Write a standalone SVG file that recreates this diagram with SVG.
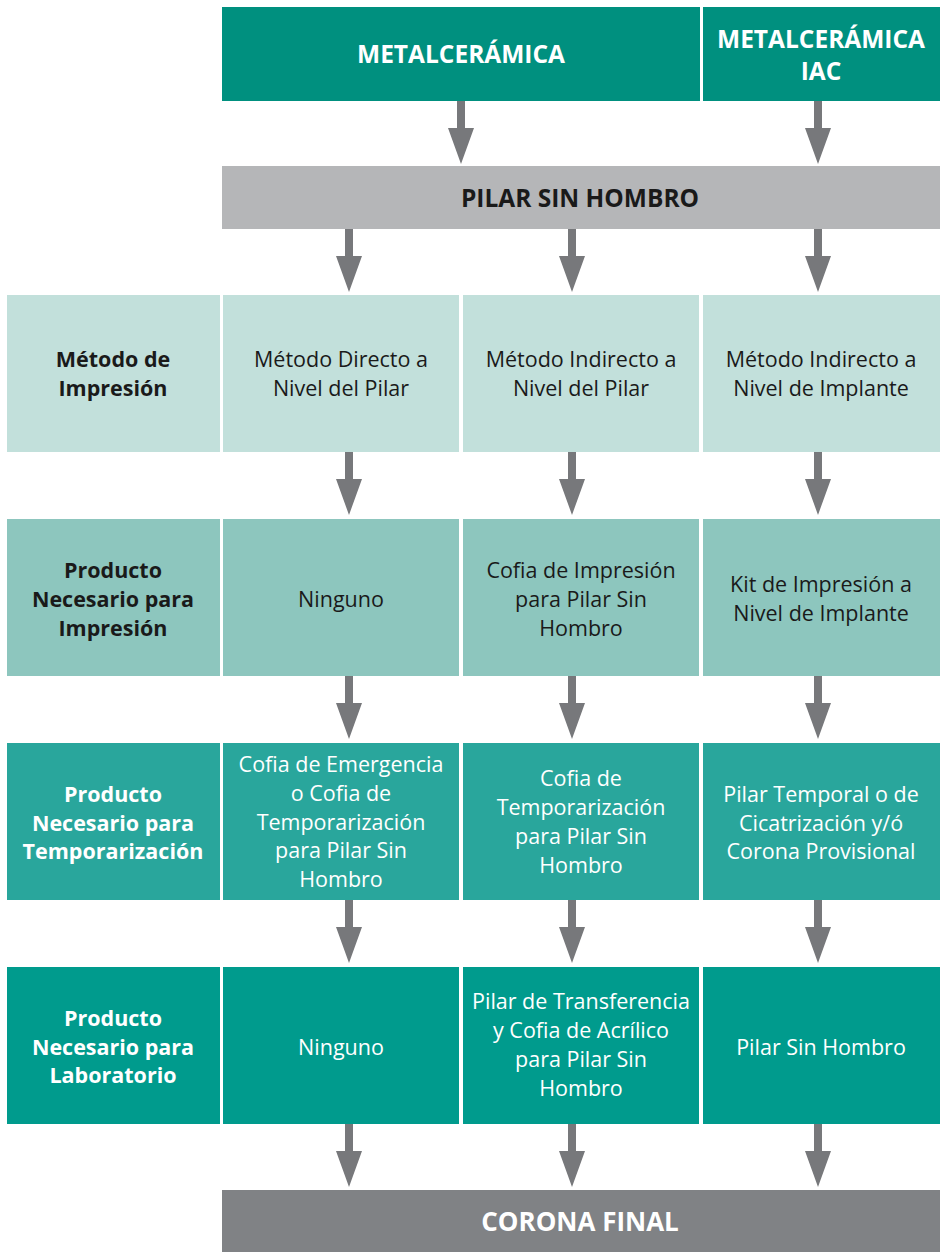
<svg xmlns="http://www.w3.org/2000/svg" xmlns:xlink="http://www.w3.org/1999/xlink" width="945" height="1252" viewBox="0 0 945 1252">
<style>
.t{font-family:"Open Sans","Noto Sans",sans-serif;font-size:21.5px;text-anchor:middle}
.b{font-weight:bold}
.h{font-family:"Open Sans","Noto Sans",sans-serif;font-size:24.5px;font-weight:bold;text-anchor:middle}
.dk{fill:#1a1a1a}
.wh{fill:#ffffff}
.hdr{fill:#00907F}
.gry{fill:#B5B6B8}
.r1{fill:#C2E0DB}
.r2{fill:#8DC6BE}
.r3{fill:#29A69C}
.r4{fill:#009B8D}
.fin{fill:#808285}
.arr{fill:#77787B}
</style>
<defs>
<path id="a" d="M-4,0 h8 v27 h9 l-13,36 l-13,-36 h9 z"/>
</defs>
<rect width="945" height="1252" fill="#ffffff"/>

<g id="connectors" class="arr">
<use xlink:href="#a" x="461" y="101"/>
<use xlink:href="#a" x="818" y="101"/>
<use xlink:href="#a" x="349" y="229"/>
<use xlink:href="#a" x="572" y="229"/>
<use xlink:href="#a" x="818" y="229"/>
<use xlink:href="#a" x="349" y="452"/>
<use xlink:href="#a" x="572" y="452"/>
<use xlink:href="#a" x="818" y="452"/>
<use xlink:href="#a" x="349" y="676"/>
<use xlink:href="#a" x="572" y="676"/>
<use xlink:href="#a" x="818" y="676"/>
<use xlink:href="#a" x="349" y="900"/>
<use xlink:href="#a" x="572" y="900"/>
<use xlink:href="#a" x="818" y="900"/>
<use xlink:href="#a" x="349" y="1124"/>
<use xlink:href="#a" x="572" y="1124"/>
<use xlink:href="#a" x="818" y="1124"/>
</g>

<g id="metalceramica">
<rect class="hdr" x="222" y="7" width="478" height="94"/>
<text class="h wh" x="461" y="63">METALCERÁMICA</text>
</g>
<g id="metalceramica-iac">
<rect class="hdr" x="703" y="7" width="237" height="94"/>
<text class="h wh" x="821" y="48">METALCERÁMICA<tspan x="821" dy="32">IAC</tspan></text>
</g>
<g id="pilar-sin-hombro">
<rect class="gry" x="222" y="166" width="718" height="63"/>
<text class="h dk" x="580" y="207">PILAR SIN HOMBRO</text>
</g>

<!-- Row 1 -->
<g id="r1-label">
<rect class="r1" x="7" y="295" width="213" height="157"/>
<text class="t b dk" x="113" y="367">Método de<tspan x="113" dy="29">Impresión</tspan></text>
</g>
<g id="r1-c1">
<rect class="r1" x="223" y="295" width="236" height="157"/>
<text class="t dk" x="341" y="367">Método Directo a<tspan x="341" dy="29">Nivel del Pilar</tspan></text>
</g>
<g id="r1-c2">
<rect class="r1" x="463" y="295" width="236" height="157"/>
<text class="t dk" x="581" y="367">Método Indirecto a<tspan x="581" dy="29">Nivel del Pilar</tspan></text>
</g>
<g id="r1-c3">
<rect class="r1" x="703" y="295" width="237" height="157"/>
<text class="t dk" x="821" y="367">Método Indirecto a<tspan x="821" dy="29">Nivel de Implante</tspan></text>
</g>

<!-- Row 2 -->
<g id="r2-label">
<rect class="r2" x="7" y="519" width="213" height="157"/>
<text class="t b dk" x="113" y="578">Producto<tspan x="113" dy="29">Necesario para</tspan><tspan x="113" dy="29">Impresión</tspan></text>
</g>
<g id="r2-c1">
<rect class="r2" x="223" y="519" width="236" height="157"/>
<text class="t dk" x="341" y="607">Ninguno</text>
</g>
<g id="r2-c2">
<rect class="r2" x="463" y="519" width="236" height="157"/>
<text class="t dk" x="581" y="578">Cofia de Impresión<tspan x="581" dy="29">para Pilar Sin</tspan><tspan x="581" dy="29">Hombro</tspan></text>
</g>
<g id="r2-c3">
<rect class="r2" x="703" y="519" width="237" height="157"/>
<text class="t dk" x="821" y="592">Kit de Impresión a<tspan x="821" dy="29">Nivel de Implante</tspan></text>
</g>

<!-- Row 3 -->
<g id="r3-label">
<rect class="r3" x="7" y="743" width="213" height="157"/>
<text class="t b wh" x="113" y="802">Producto<tspan x="113" dy="28.5">Necesario para</tspan><tspan x="113" dy="28.5">Temporarización</tspan></text>
</g>
<g id="r3-c1">
<rect class="r3" x="223" y="743" width="236" height="157"/>
<text class="t wh" x="341" y="772">Cofia de Emergencia<tspan x="341" dy="28.8">o Cofia de</tspan><tspan x="341" dy="28.8">Temporarización</tspan><tspan x="341" dy="28.8">para Pilar Sin</tspan><tspan x="341" dy="28.8">Hombro</tspan></text>
</g>
<g id="r3-c2">
<rect class="r3" x="463" y="743" width="236" height="157"/>
<text class="t wh" x="581" y="786">Cofia de<tspan x="581" dy="29">Temporarización</tspan><tspan x="581" dy="29">para Pilar Sin</tspan><tspan x="581" dy="29">Hombro</tspan></text>
</g>
<g id="r3-c3">
<rect class="r3" x="703" y="743" width="237" height="157"/>
<text class="t wh" x="821" y="802">Pilar Temporal o de<tspan x="821" dy="28.5">Cicatrización y/ó</tspan><tspan x="821" dy="28.5">Corona Provisional</tspan></text>
</g>

<!-- Row 4 -->
<g id="r4-label">
<rect class="r4" x="7" y="967" width="213" height="157"/>
<text class="t b wh" x="113" y="1026">Producto<tspan x="113" dy="28.5">Necesario para</tspan><tspan x="113" dy="28.5">Laboratorio</tspan></text>
</g>
<g id="r4-c1">
<rect class="r4" x="223" y="967" width="236" height="157"/>
<text class="t wh" x="341" y="1055">Ninguno</text>
</g>
<g id="r4-c2">
<rect class="r4" x="463" y="967" width="236" height="157"/>
<text class="t wh" x="581" y="1009">Pilar de Transferencia<tspan x="581" dy="29">y Cofia de Acrílico</tspan><tspan x="581" dy="29">para Pilar Sin</tspan><tspan x="581" dy="29">Hombro</tspan></text>
</g>
<g id="r4-c3">
<rect class="r4" x="703" y="967" width="237" height="157"/>
<text class="t wh" x="821" y="1055">Pilar Sin Hombro</text>
</g>

<g id="corona-final">
<rect class="fin" x="222" y="1190" width="718" height="62"/>
<text class="h wh" x="580" y="1231" style="font-size:26px">CORONA FINAL</text>
</g>
</svg>
